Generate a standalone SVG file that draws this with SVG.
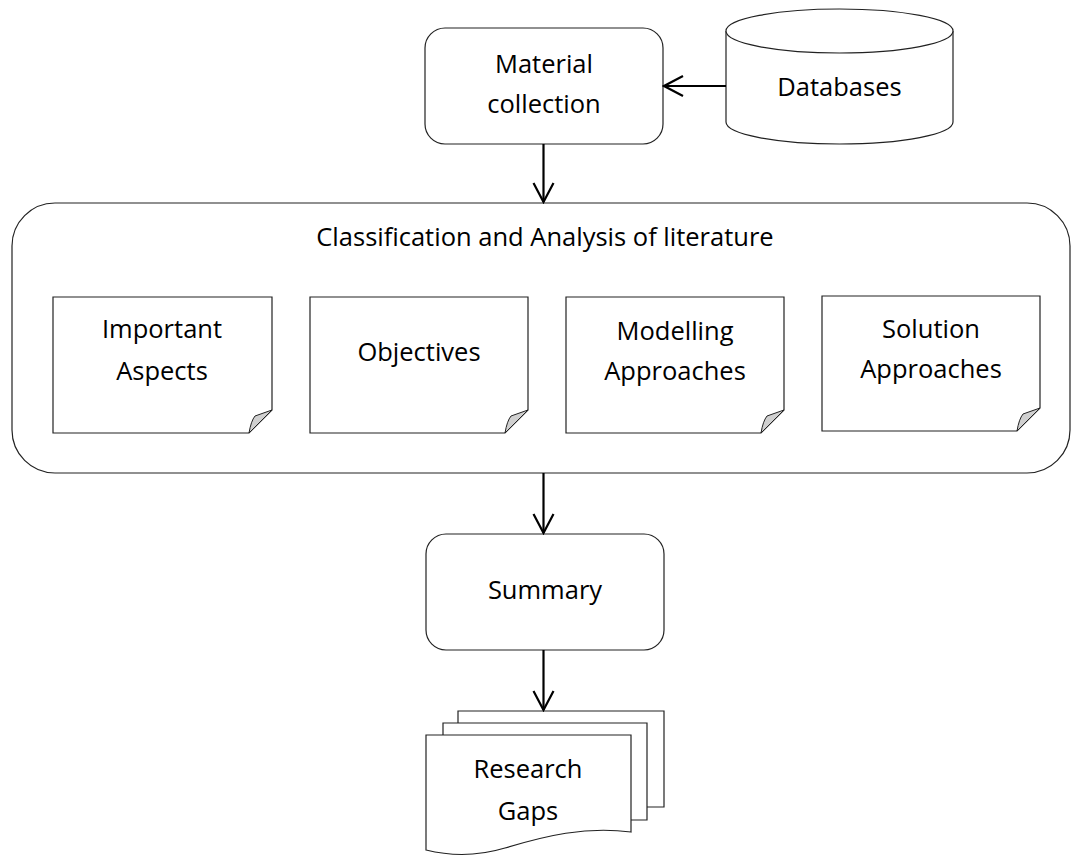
<svg xmlns="http://www.w3.org/2000/svg" width="1071" height="856" viewBox="0 0 1071 856">
  <defs>
    <marker id="arrow" viewBox="0 0 22 24" refX="20" refY="12" markerWidth="22" markerHeight="24" markerUnits="userSpaceOnUse" orient="auto">
      <path d="M1,2 L20,12 L1,22" fill="none" stroke="#000" stroke-width="2.2"/>
    </marker>
    <style>
      .shape { fill: #fff; stroke: #222; stroke-width: 1.2; }
      .fold { fill: #d0d0d0; stroke: #222; stroke-width: 1; }
      .label { font-family: "Open Sans", "Liberation Sans", sans-serif; font-size: 25.5px; fill: #000; text-anchor: middle; }
      .conn { stroke: #000; stroke-width: 2.2; fill: none; marker-end: url(#arrow); }
    </style>
  </defs>
  <rect width="1071" height="856" fill="#fff"/>

  <!-- Material collection -->
  <g id="material-collection">
    <rect class="shape" x="425" y="28" width="238" height="116" rx="20"/>
    <text class="label" x="544" y="73">Material</text>
    <text class="label" x="544" y="113">collection</text>
  </g>

  <!-- Databases (cylinder) -->
  <g id="databases">
    <path class="shape" d="M726,31 V122 A113.5,22 0 0 0 953,122 V31"/>
    <ellipse class="shape" cx="839.5" cy="31" rx="113.5" ry="22"/>
    <text class="label" x="839.5" y="96">Databases</text>
  </g>

  <!-- Classification container -->
  <g id="classification">
    <rect class="shape" x="12" y="203" width="1058" height="270" rx="43"/>
    <text class="label" x="545" y="246">Classification and Analysis of literature</text>
  </g>

  <!-- Note cards inside the container -->
  <g id="important-aspects">
    <path class="shape" d="M53,297 H272 V410 L249,433 H53 Z"/>
    <path class="fold" d="M249,433 Q251,421 255,416 L272,410 Z"/>
    <text class="label" x="162" y="338">Important</text>
    <text class="label" x="162" y="380">Aspects</text>
  </g>

  <g id="objectives">
    <path class="shape" d="M310,297 H528 V410 L505,433 H310 Z"/>
    <path class="fold" d="M505,433 Q507,421 511,416 L528,410 Z"/>
    <text class="label" x="419" y="361">Objectives</text>
  </g>

  <g id="modelling-approaches">
    <path class="shape" d="M566,297 H784 V410 L761,433 H566 Z"/>
    <path class="fold" d="M761,433 Q763,421 767,416 L784,410 Z"/>
    <text class="label" x="675" y="340">Modelling</text>
    <text class="label" x="675" y="380">Approaches</text>
  </g>

  <g id="solution-approaches">
    <path class="shape" d="M822,296 H1040 V408 L1017,431 H822 Z"/>
    <path class="fold" d="M1017,431 Q1019,419 1023,414 L1040,408 Z"/>
    <text class="label" x="931" y="338">Solution</text>
    <text class="label" x="931" y="378">Approaches</text>
  </g>

  <!-- Summary -->
  <g id="summary">
    <rect class="shape" x="426" y="534" width="238" height="116" rx="20"/>
    <text class="label" x="545" y="599">Summary</text>
  </g>

  <!-- Research Gaps (multi-document) -->
  <g id="research-gaps">
    <path class="shape" d="M458,723 V711 H664 V807 H647"/>
    <path class="shape" d="M443,735 V723 H647 V820 H631"/>
    <path class="shape" d="M426,735 H631 V832 C585,826 545,836 505,848 C475,857 450,856 426,850 Z"/>
    <text class="label" x="528" y="778">Research</text>
    <text class="label" x="528" y="820">Gaps</text>
  </g>

  <!-- Connectors -->
  <g id="connectors">
    <line class="conn" x1="726" y1="86" x2="664" y2="86"/>
    <line class="conn" x1="543.5" y1="144" x2="543.5" y2="202"/>
    <line class="conn" x1="543.5" y1="473" x2="543.5" y2="533"/>
    <line class="conn" x1="543.5" y1="650" x2="543.5" y2="710"/>
  </g>
</svg>
